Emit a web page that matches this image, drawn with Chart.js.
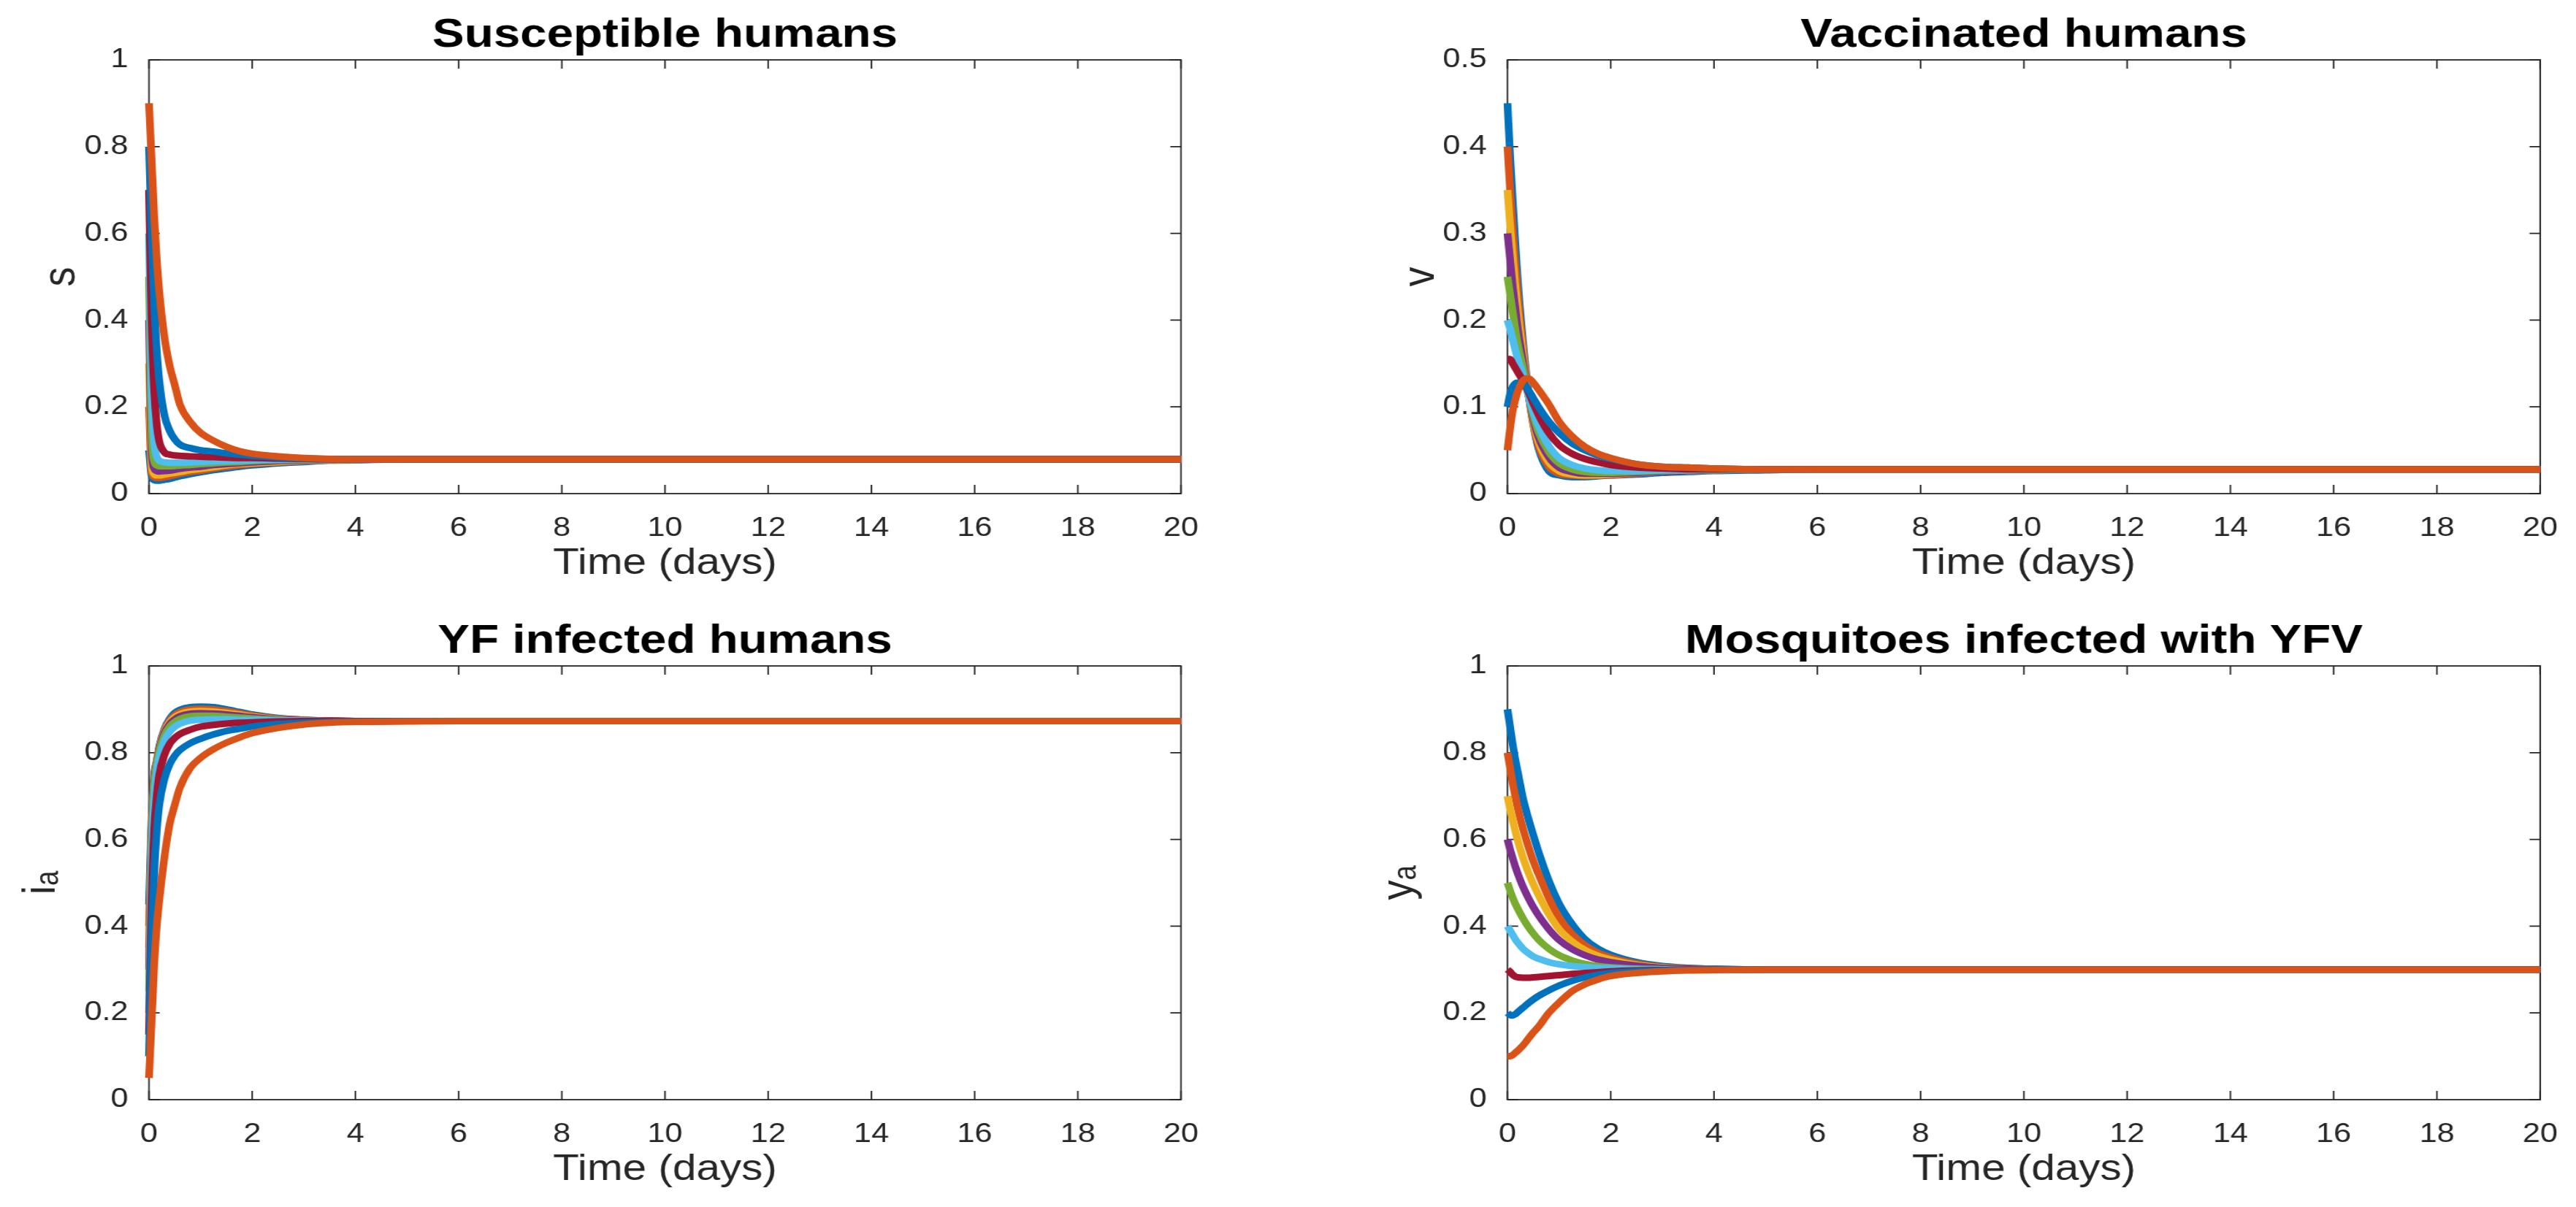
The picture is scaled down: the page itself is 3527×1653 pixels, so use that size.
<!DOCTYPE html>
<html>
<head>
<meta charset="utf-8">
<title>YF model trajectories</title>
<script src="https://cdn.jsdelivr.net/npm/chart.js@4.4.1/dist/chart.umd.min.js"></script>
<style>
  body { margin: 0; background: #fff; width: 3527px; height: 1653px; position: relative; overflow: hidden; }
  canvas { position: absolute; }
</style>
</head>
<body>
<canvas id="chartS" width="1508" height="823" style="left:0;top:0;width:1764px;height:823px"></canvas>
<canvas id="chartV" width="1508" height="823" style="left:1763px;top:0;width:1764px;height:823px"></canvas>
<canvas id="chartI" width="1508" height="823" style="left:0;top:830px;width:1764px;height:823px"></canvas>
<canvas id="chartY" width="1508" height="823" style="left:1763px;top:830px;width:1764px;height:823px"></canvas>
<script>
// time samples (days)
const TIME = [0, 0.05, 0.1, 0.15, 0.2, 0.3, 0.4, 0.5, 0.6, 0.8, 1, 1.25, 1.5, 1.75, 2, 2.5, 3, 3.5, 4, 5, 6, 8, 12, 16, 20];

// susceptible humans, one row per initial condition
const S_VALUES = [
  [0.10,0.040,0.031,0.030,0.030,0.032,0.034,0.037,0.040,0.045,0.049,0.054,0.058,0.062,0.065,0.070,0.073,0.076,0.077, 0.079,0.079,0.079,0.079,0.079,0.079],
  [0.20,0.050,0.038,0.036,0.036,0.038,0.040,0.043,0.046,0.050,0.053,0.058,0.062,0.065,0.068,0.072,0.075,0.077,0.078, 0.079,0.079,0.079,0.079,0.079,0.079],
  [0.30,0.070,0.045,0.042,0.042,0.044,0.046,0.048,0.050,0.054,0.057,0.061,0.065,0.068,0.070,0.073,0.076,0.077,0.078, 0.079,0.079,0.079,0.079,0.079,0.079],
  [0.40,0.100,0.058,0.052,0.051,0.052,0.053,0.055,0.057,0.060,0.062,0.066,0.068,0.070,0.072,0.075,0.077,0.078,0.079, 0.079,0.079,0.079,0.079,0.079,0.079],
  [0.50,0.150,0.075,0.065,0.063,0.063,0.063,0.064,0.065,0.066,0.068,0.070,0.072,0.073,0.075,0.077,0.078,0.079,0.079, 0.079,0.079,0.079,0.079,0.079,0.079],
  [0.60,0.250,0.120,0.085,0.076,0.072,0.071,0.071,0.071,0.072,0.073,0.074,0.075,0.076,0.077,0.078,0.079,0.079,0.079, 0.079,0.079,0.079,0.079,0.079,0.079],
  [0.70,0.400,0.240,0.160,0.120,0.095,0.090,0.088,0.087,0.086,0.085,0.084,0.083,0.082,0.082,0.081,0.080,0.079,0.079, 0.079,0.079,0.079,0.079,0.079,0.079],
  [0.80,0.600,0.440,0.330,0.260,0.180,0.145,0.125,0.113,0.105,0.100,0.097,0.093,0.090,0.087,0.083,0.081,0.080,0.079, 0.079,0.079,0.079,0.079,0.079,0.079],
  [0.90,0.770,0.640,0.540,0.465,0.360,0.295,0.250,0.205,0.165,0.140,0.122,0.108,0.098,0.092,0.086,0.082,0.080,0.079, 0.079,0.079,0.079,0.079,0.079,0.079]
];

// vaccinated humans
const V_VALUES = [
  [0.45,0.39,0.34,0.29,0.245,0.175,0.12,0.08,0.052,0.026,0.021,0.019,0.019,0.020,0.021,0.022,0.024,0.025,0.026, 0.027,0.028,0.028,0.028,0.028,0.028],
  [0.40,0.35,0.305,0.265,0.228,0.168,0.118,0.08,0.055,0.031,0.023,0.021,0.020,0.021,0.021,0.023,0.025,0.026,0.027, 0.028,0.028,0.028,0.028,0.028,0.028],
  [0.35,0.31,0.275,0.24,0.21,0.16,0.117,0.083,0.06,0.036,0.026,0.022,0.021,0.021,0.022,0.024,0.025,0.026,0.027, 0.028,0.028,0.028,0.028,0.028,0.028],
  [0.30,0.27,0.24,0.215,0.19,0.152,0.116,0.086,0.065,0.042,0.030,0.025,0.023,0.023,0.023,0.024,0.025,0.026,0.027, 0.028,0.028,0.028,0.028,0.028,0.028],
  [0.25,0.23,0.21,0.19,0.172,0.145,0.115,0.09,0.071,0.048,0.035,0.028,0.025,0.024,0.024,0.025,0.026,0.027,0.027, 0.028,0.028,0.028,0.028,0.028,0.028],
  [0.20,0.19,0.178,0.166,0.155,0.137,0.114,0.094,0.078,0.055,0.041,0.033,0.029,0.027,0.026,0.026,0.027,0.027,0.028, 0.028,0.028,0.028,0.028,0.028,0.028],
  [0.155,0.155,0.15,0.145,0.14,0.13,0.118,0.104,0.091,0.07,0.056,0.046,0.04,0.036,0.033,0.030,0.029,0.028,0.028, 0.028,0.028,0.028,0.028,0.028,0.028],
  [0.10,0.115,0.123,0.127,0.128,0.127,0.12,0.11,0.10,0.083,0.07,0.058,0.05,0.044,0.04,0.034,0.031,0.030,0.029, 0.028,0.028,0.028,0.028,0.028,0.028],
  [0.05,0.075,0.095,0.108,0.118,0.13,0.133,0.128,0.12,0.103,0.083,0.066,0.054,0.046,0.041,0.034,0.031,0.030,0.029, 0.028,0.028,0.028,0.028,0.028,0.028]
];

// YF infected humans
const I_VALUES = [
  [0.45,0.65,0.75,0.78,0.815,0.855,0.878,0.892,0.899,0.905,0.906,0.905,0.900,0.894,0.888,0.880,0.876,0.874,0.873, 0.873,0.873,0.873,0.873,0.873,0.873],
  [0.40,0.63,0.74,0.78,0.812,0.852,0.874,0.887,0.894,0.900,0.901,0.900,0.896,0.891,0.886,0.879,0.876,0.874,0.873, 0.873,0.873,0.873,0.873,0.873,0.873],
  [0.35,0.62,0.735,0.78,0.81,0.849,0.870,0.882,0.889,0.895,0.896,0.895,0.892,0.888,0.884,0.878,0.875,0.874,0.873, 0.873,0.873,0.873,0.873,0.873,0.873],
  [0.30,0.61,0.73,0.778,0.808,0.846,0.866,0.877,0.884,0.890,0.891,0.890,0.888,0.885,0.882,0.877,0.875,0.874,0.873, 0.873,0.873,0.873,0.873,0.873,0.873],
  [0.25,0.58,0.72,0.772,0.803,0.840,0.860,0.871,0.878,0.884,0.885,0.885,0.883,0.881,0.879,0.876,0.874,0.873,0.873, 0.873,0.873,0.873,0.873,0.873,0.873],
  [0.20,0.54,0.69,0.755,0.790,0.828,0.848,0.860,0.867,0.874,0.876,0.877,0.877,0.876,0.876,0.875,0.874,0.873,0.873, 0.873,0.873,0.873,0.873,0.873,0.873],
  [0.15,0.45,0.62,0.70,0.75,0.795,0.82,0.834,0.843,0.853,0.860,0.864,0.867,0.869,0.870,0.872,0.873,0.873,0.873, 0.873,0.873,0.873,0.873,0.873,0.873],
  [0.10,0.35,0.52,0.62,0.68,0.74,0.773,0.793,0.806,0.822,0.832,0.842,0.85,0.855,0.86,0.866,0.869,0.871,0.872, 0.873,0.873,0.873,0.873,0.873,0.873],
  [0.05,0.18,0.31,0.40,0.46,0.56,0.635,0.68,0.72,0.765,0.788,0.808,0.823,0.835,0.845,0.857,0.865,0.869,0.871, 0.872,0.873,0.873,0.873,0.873,0.873]
];

// mosquitoes infected with YFV
const Y_VALUES = [
  [0.90,0.86,0.82,0.785,0.755,0.695,0.65,0.61,0.572,0.505,0.452,0.405,0.37,0.348,0.334,0.317,0.308,0.304,0.302, 0.300,0.300,0.300,0.300,0.300,0.300],
  [0.80,0.765,0.73,0.70,0.672,0.625,0.585,0.55,0.52,0.465,0.42,0.382,0.356,0.339,0.328,0.314,0.306,0.303,0.301, 0.300,0.300,0.300,0.300,0.300,0.300],
  [0.70,0.67,0.645,0.62,0.597,0.558,0.525,0.497,0.472,0.428,0.393,0.365,0.345,0.332,0.323,0.311,0.305,0.302,0.301, 0.300,0.300,0.300,0.300,0.300,0.300],
  [0.60,0.577,0.557,0.538,0.521,0.491,0.466,0.444,0.425,0.393,0.368,0.347,0.333,0.323,0.317,0.309,0.304,0.302,0.301, 0.300,0.300,0.300,0.300,0.300,0.300],
  [0.50,0.482,0.466,0.452,0.44,0.418,0.399,0.383,0.369,0.348,0.333,0.321,0.313,0.308,0.305,0.302,0.301,0.300,0.300, 0.300,0.300,0.300,0.300,0.300,0.300],
  [0.40,0.39,0.38,0.37,0.362,0.348,0.338,0.33,0.325,0.317,0.312,0.308,0.306,0.304,0.303,0.301,0.300,0.300,0.300, 0.300,0.300,0.300,0.300,0.300,0.300],
  [0.30,0.295,0.288,0.284,0.282,0.281,0.281,0.282,0.283,0.285,0.287,0.29,0.292,0.294,0.296,0.298,0.299,0.300,0.300, 0.300,0.300,0.300,0.300,0.300,0.300],
  [0.20,0.195,0.194,0.197,0.202,0.212,0.222,0.231,0.239,0.252,0.263,0.274,0.282,0.288,0.292,0.296,0.298,0.299,0.300, 0.300,0.300,0.300,0.300,0.300,0.300],
  [0.10,0.10,0.103,0.108,0.113,0.125,0.14,0.155,0.168,0.2,0.224,0.25,0.266,0.277,0.285,0.292,0.296,0.298,0.299, 0.300,0.300,0.300,0.300,0.300,0.300]
];

const X_TICKS = [0, 2, 4, 6, 8, 10, 12, 14, 16, 18, 20];
const Y_TICKS_UNIT = [0, 0.2, 0.4, 0.6, 0.8, 1];
const Y_TICKS_HALF = [0, 0.1, 0.2, 0.3, 0.4, 0.5];

// matlab default color order, cycling after seven lines
const COLORS = ['#0072BD', '#D95319', '#EDB120', '#7E2F8E', '#77AC30', '#4DBEEE', '#A2142F', '#0072BD', '#D95319'];

const AXIS_COLOR = '#262626';
const TICK_FONT = "'Liberation Sans Narrow', 'Liberation Sans', Arial, sans-serif";
const TEXT_FONT = "'Liberation Sans', Arial, sans-serif";

// figure is stretched sideways, canvases are drawn narrower and scaled up by css
const STRETCH = 1764 / 1508;

// draws the axes box and inward tick marks on all four sides
const boxTicks = {
  id: 'boxTicks',
  beforeDatasetsDraw(chart) {
    const { ctx, chartArea: a, scales: { x, y } } = chart;
    ctx.save();
    ctx.strokeStyle = AXIS_COLOR;
    ctx.lineWidth = 1.8;
    ctx.strokeRect(a.left, a.top, a.right - a.left, a.bottom - a.top);
    ctx.beginPath();
    x.ticks.forEach(t => {
      const px = x.getPixelForValue(t.value);
      ctx.moveTo(px, a.bottom); ctx.lineTo(px, a.bottom - 12);
      ctx.moveTo(px, a.top); ctx.lineTo(px, a.top + 12);
    });
    y.ticks.forEach(t => {
      const py = y.getPixelForValue(t.value);
      ctx.moveTo(a.left, py); ctx.lineTo(a.left + 12.5, py);
      ctx.moveTo(a.right, py); ctx.lineTo(a.right - 12.5, py);
    });
    ctx.stroke();
    ctx.restore();
  }
};

function makePanel(id, title, yLabel, values, yTicks, plotLeftCss, plotRightCss, yLabelPad) {
  const plotLeft = plotLeftCss / STRETCH;
  const rightPad = 1508 - plotRightCss / STRETCH;

  const datasets = values.map((row, i) => ({
    data: TIME.map((t, j) => ({ x: t, y: row[j] })),
    borderColor: COLORS[i],
    borderWidth: 9,
    pointRadius: 0,
    cubicInterpolationMode: 'monotone',
    borderJoinStyle: 'round',
    clip: false,
    order: values.length - i
  }));

  return new Chart(document.getElementById(id), {
    type: 'line',
    data: { datasets },
    options: {
      responsive: false,
      animation: false,
      devicePixelRatio: 1,
      layout: { padding: { left: 0, right: rightPad, top: 0, bottom: 15.9 } },
      plugins: {
        legend: { display: false },
        tooltip: { enabled: false },
        title: {
          display: true,
          text: title,
          fullSize: false,
          color: '#000',
          font: { family: TEXT_FONT, size: 56, weight: 'bold', lineHeight: 1 },
          padding: { top: 21, bottom: 5 }
        }
      },
      scales: {
        x: {
          type: 'linear',
          min: 0,
          max: 20,
          grid: { display: false },
          border: { display: false },
          afterBuildTicks: s => { s.ticks = X_TICKS.map(v => ({ value: v })); },
          afterFit: s => { s.height = 131.1; },
          ticks: {
            color: AXIS_COLOR,
            padding: 17.8,
            maxRotation: 0,
            autoSkip: false,
            font: { family: TICK_FONT, size: 37, lineHeight: 1.2 },
            callback: v => String(v)
          },
          title: {
            display: true,
            text: 'Time (days)',
            color: AXIS_COLOR,
            font: { family: TEXT_FONT, size: 50, lineHeight: 1 },
            padding: { top: 0, bottom: 10 }
          }
        },
        y: {
          type: 'linear',
          min: yTicks[0],
          max: yTicks[yTicks.length - 1],
          grid: { display: false },
          border: { display: false },
          afterBuildTicks: s => { s.ticks = yTicks.map(v => ({ value: v })); },
          afterFit: s => { s.width = plotLeft; },
          ticks: {
            color: AXIS_COLOR,
            padding: 16.3,
            autoSkip: false,
            font: { family: TICK_FONT, size: 37, lineHeight: 1.2 },
            callback: v => String(v)
          },
          title: {
            display: true,
            text: yLabel,
            color: AXIS_COLOR,
            font: { family: TEXT_FONT, size: 54, lineHeight: 1 },
            padding: { top: yLabelPad, bottom: 0 }
          }
        }
      }
    },
    plugins: [boxTicks]
  });
}

// plot area edges in page pixels, relative to each canvas
makePanel('chartS', 'Susceptible humans', 's', S_VALUES, Y_TICKS_UNIT, 204, 1617, 45.1);
makePanel('chartV', 'Vaccinated humans', 'v', V_VALUES, Y_TICKS_HALF, 301, 1715, 129.6);
makePanel('chartI', 'YF infected humans', 'iₐ', I_VALUES, Y_TICKS_UNIT, 204, 1617, 21.9);
makePanel('chartY', 'Mosquitoes infected with YFV', 'yₐ', Y_VALUES, Y_TICKS_UNIT, 301, 1715, 104.4);
</script>
</body>
</html>
